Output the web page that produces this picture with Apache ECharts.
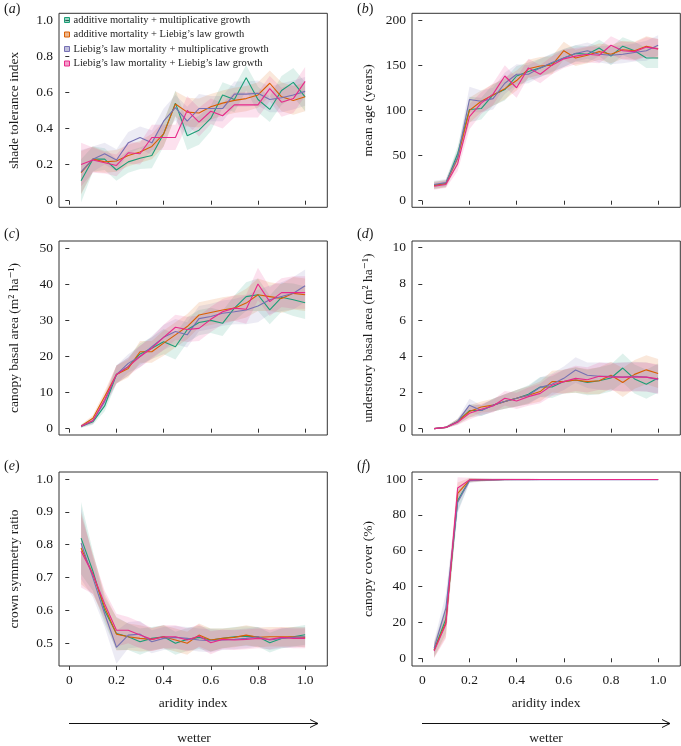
<!DOCTYPE html>
<html>
<head>
<meta charset="utf-8">
<script src="https://cdn.jsdelivr.net/npm/echarts@6/dist/echarts.min.js"></script>
<style>
html,body{margin:0;padding:0;background:#fff;}
#chart{width:681px;height:746px;}
</style>
</head>
<body>
<div id="chart"></div>
<script>
// ---------------- DATA ----------------
const aridity = [0.05,0.10,0.15,0.20,0.25,0.30,0.35,0.40,0.45,0.50,0.55,0.60,0.65,0.70,0.75,0.80,0.85,0.90,0.95,1.00];
const modelNames = [
  'additive mortality + multiplicative growth',
  'additive mortality + Liebig\u2019s law growth',
  'Liebig\u2019s law mortality + multiplicative growth',
  'Liebig\u2019s law mortality + Liebig\u2019s law growth'
];
const xTicks = [0,0.2,0.4,0.6,0.8,1.0];

// (a) shade tolerance index
const shadeGreen  = [0.11,0.23,0.23,0.17,0.215,0.235,0.25,0.37,0.54,0.36,0.39,0.455,0.585,0.56,0.68,0.56,0.505,0.61,0.655,0.575];
const shadeOrange = [0.155,0.23,0.215,0.22,0.25,0.27,0.30,0.37,0.535,0.49,0.485,0.52,0.54,0.555,0.565,0.585,0.65,0.575,0.555,0.575];
const shadePurple = [0.16,0.23,0.26,0.225,0.32,0.35,0.32,0.44,0.515,0.44,0.51,0.51,0.51,0.59,0.59,0.595,0.56,0.57,0.585,0.605];
const shadePink   = [0.20,0.225,0.21,0.195,0.265,0.26,0.35,0.35,0.35,0.50,0.435,0.495,0.47,0.53,0.53,0.53,0.62,0.545,0.565,0.66];
const shadeSpread = [0.12,0.07,0.06,0.06,0.06,0.06,0.07,0.07,0.07,0.08,0.08,0.07,0.07,0.07,0.07,0.07,0.07,0.08,0.08,0.08];
const shadeTicks  = [0,0.2,0.4,0.6,0.8,1.0];

// (b) mean age
const ageGreen  = [17,19,52,101,102,117,123,138,143,147,152,158,163,162,169,160,171,166,158,158];
const ageOrange = [17,19,47,100,110,117,124,133,146,149,150,166,158,161,165,162,167,166,171,168];
const agePurple = [18,20,48,112,110,113,130,140,140,147,153,158,163,166,162,161,162,164,166,172];
const agePink   = [16,18,41,93,108,118,138,125,147,140,150,157,160,162,161,172,166,165,170,168];
const ageSpread = [4,4,8,14,12,12,12,11,10,10,10,10,9,9,9,10,10,10,11,11];
const ageTicks  = [0,50,100,150,200];

// (c) canopy basal area
const canopyBAGreen  = [0.6,1.9,6.3,15,17.2,20.7,22.3,24.1,22.7,27.4,29.4,30,29.2,33.4,36.6,37.1,32.9,36.4,35.7,34.9];
const canopyBAOrange = [0.7,2.9,8.9,15,16.7,21.3,21.3,23.7,26,28.3,31.5,32.2,32.9,33.4,34.8,37.1,36.6,36.1,37.5,37.1];
const canopyBAPurple = [0.7,2.2,7.5,15,18.1,20,22.7,25.3,26.9,26,30.5,31.1,32,32.4,32.9,34,35.7,36.6,37.5,39.6];
const canopyBAPink   = [0.7,2.2,8,15,17.2,20,22.3,25.3,28.1,27.5,27.8,30.3,32.4,33.4,33.1,40.1,35.2,37.7,37.7,37.7];
const canopyBASpread = [0.4,0.8,1.5,2.5,2.5,3,3,3.5,3.5,3.5,3.5,3.5,3.5,3.5,4,4.5,4,4,4.5,4.5];
const canopyBATicks  = [0,10,20,30,40,50];

// (d) understory basal area
const underBAGreen  = [0,0.07,0.4,1.0,1.0,1.3,1.5,1.68,1.9,2.3,2.3,2.6,2.69,2.55,2.65,2.8,3.35,2.75,2.45,2.8];
const underBAOrange = [0,0.07,0.4,0.95,1.2,1.3,1.5,1.68,1.85,2.05,2.6,2.6,2.69,2.6,2.65,2.95,2.55,3.0,3.25,3.05];
const underBAPurple = [0,0.07,0.4,1.3,1.0,1.3,1.5,1.68,1.85,2.28,2.45,2.78,3.24,2.95,2.9,2.9,2.85,2.9,2.85,2.7];
const underBAPink   = [0,0.07,0.35,0.85,1.07,1.25,1.68,1.53,1.77,1.95,2.4,2.6,2.78,2.7,2.9,2.85,2.85,2.85,2.85,2.75];
const underBASpread = [0.02,0.05,0.15,0.35,0.3,0.35,0.4,0.45,0.5,0.55,0.6,0.65,0.7,0.7,0.75,0.75,0.8,0.8,0.8,0.8];
const underBATicks  = [0,2,4,6,8,10];

// (e) crown symmetry ratio
const crownGreen  = [0.82,0.72,0.60,0.53,0.52,0.505,0.515,0.52,0.50,0.512,0.518,0.51,0.515,0.52,0.522,0.52,0.502,0.515,0.52,0.526];
const crownOrange = [0.79,0.71,0.61,0.528,0.52,0.515,0.512,0.52,0.51,0.50,0.525,0.51,0.515,0.518,0.525,0.518,0.52,0.52,0.52,0.518];
const crownPurple = [0.805,0.70,0.59,0.488,0.525,0.528,0.505,0.515,0.518,0.515,0.51,0.508,0.51,0.512,0.515,0.52,0.51,0.515,0.518,0.52];
const crownPink   = [0.78,0.71,0.62,0.54,0.54,0.525,0.512,0.52,0.52,0.51,0.522,0.502,0.512,0.51,0.512,0.515,0.512,0.518,0.515,0.515];
const crownSpread = [0.11,0.06,0.04,0.05,0.04,0.04,0.035,0.035,0.035,0.035,0.035,0.035,0.03,0.03,0.03,0.03,0.03,0.03,0.03,0.03];
const crownTicks  = [0.5,0.6,0.7,0.8,0.9,1.0];

// (f) canopy cover
const coverGreen  = [4.5,22,88,99.3,99.5,99.6,99.7,99.7,99.7,99.7,99.7,99.7,99.7,99.7,99.7,99.7,99.7,99.7,99.7,99.7];
const coverOrange = [4.5,20,92,99.4,99.5,99.6,99.7,99.7,99.7,99.7,99.7,99.7,99.7,99.7,99.7,99.7,99.7,99.7,99.7,99.7];
const coverPurple = [5.5,28,87,99.0,99.4,99.5,99.6,99.6,99.6,99.6,99.6,99.6,99.6,99.6,99.6,99.6,99.6,99.6,99.6,99.6];
const coverPink   = [4,19,95,99.5,99.6,99.6,99.7,99.7,99.7,99.7,99.7,99.7,99.7,99.7,99.7,99.7,99.7,99.7,99.7,99.7];
const coverSpread = [4,8,6,1.2,0.8,0.6,0.5,0.4,0.4,0.3,0.3,0.3,0.3,0.3,0.3,0.3,0.3,0.3,0.3,0.3];
const coverTicks  = [0,20,40,60,80,100];

// ---------------- STYLE / LAYOUT ----------------
const colors = ['#1b9e77','#d95f02','#7570b3','#e7298a'];
const FONT = "'Liberation Serif', 'DejaVu Serif', serif";
const TXT = '#1a1a1a';
const AX = '#333333';

function rgba(hex, a){
  const n = parseInt(hex.slice(1),16);
  return 'rgba(' + ((n>>16)&255) + ',' + ((n>>8)&255) + ',' + (n&255) + ',' + a + ')';
}
function fmt1(v){ return v === 0 ? '0' : v.toFixed(1); }
function fmt0(v){ return String(Math.round(v)); }

const panels = [
  {lines:[shadeGreen,shadeOrange,shadePurple,shadePink], spread:shadeSpread, ticks:shadeTicks, fmt:fmt1,
   yMin:-0.0365, yMax:1.037, name:'shade tolerance index', left:59, top:13.3, label:'a'},
  {lines:[ageGreen,ageOrange,agePurple,agePink], spread:ageSpread, ticks:ageTicks, fmt:fmt0,
   yMin:-7.3, yMax:207.4, name:'mean age (years)', left:412, top:13.3, label:'b'},
  {lines:[canopyBAGreen,canopyBAOrange,canopyBAPurple,canopyBAPink], spread:canopyBASpread, ticks:canopyBATicks, fmt:fmt0,
   yMin:-1.75, yMax:52.0, name:'canopy basal area (m\u00B2 ha\u207B\u00B9)', left:59, top:241, label:'c'},
  {lines:[underBAGreen,underBAOrange,underBAPurple,underBAPink], spread:underBASpread, ticks:underBATicks, fmt:fmt0,
   yMin:-0.35, yMax:10.37, name:'understory basal area (m\u00B2 ha\u207B\u00B9)', left:412, top:241, label:'d'},
  {lines:[crownGreen,crownOrange,crownPurple,crownPink], spread:crownSpread, ticks:crownTicks, fmt:fmt1,
   yMin:0.431, yMax:1.0213, name:'crown symmetry ratio', left:59, top:472, label:'e', bottom:true},
  {lines:[coverGreen,coverOrange,coverPurple,coverPink], spread:coverSpread, ticks:coverTicks, fmt:fmt0,
   yMin:-4.3, yMax:103.9, name:'canopy cover (%)', left:412, top:472, label:'f', bottom:true}
];

const grids = [], xAxes = [], yAxes = [], series = [], graphics = [];

panels.forEach((p, gi) => {
  grids.push({left:p.left, top:p.top, width:268.3, height:194, show:true, borderColor:AX, borderWidth:1, backgroundColor:'transparent'});
  xAxes.push({
    type:'value', gridIndex:gi, min:-0.0436, max:1.094,
    axisLine:{show:false},
    axisTick:{show:true, inside:false, length:4, lineStyle:{color:AX, width:1}, customValues:xTicks},
    axisLabel:{show:!!p.bottom, customValues:xTicks, formatter:fmt1, fontFamily:FONT, fontSize:13.5, color:TXT, margin:7},
    splitLine:{show:false},
    name: p.bottom ? 'aridity index' : '', nameLocation:'middle', nameGap:30,
    nameTextStyle:{fontFamily:FONT, fontSize:13.5, color:TXT}
  });
  yAxes.push({
    type:'value', gridIndex:gi, min:p.yMin, max:p.yMax,
    axisLine:{show:false},
    axisTick:{show:true, inside:false, length:4, lineStyle:{color:AX, width:1}, customValues:p.ticks},
    axisLabel:{customValues:p.ticks, formatter:p.fmt, fontFamily:FONT, fontSize:13.5, color:TXT, margin:6},
    splitLine:{show:false},
    name:p.name, nameLocation:'middle', nameRotate:90, nameGap: (gi % 2 === 0) ? 38 : 37,
    nameTextStyle:{fontFamily:FONT, fontSize:13.5, color:TXT}
  });
  // bands
  p.lines.forEach((vals, si) => {
    series.push({
      type:'custom', name: 'band' + gi + '_' + si, xAxisIndex:gi, yAxisIndex:gi, silent:true, clip:true, z:1,
      data:[[aridity[0], vals[0]]],
      renderItem: function(params, api){
        const pts = [];
        for (let k = 0; k < aridity.length; k++) pts.push(api.coord([aridity[k], vals[k] + p.spread[k]]));
        for (let k = aridity.length - 1; k >= 0; k--) pts.push(api.coord([aridity[k], vals[k] - p.spread[k]]));
        return {type:'polygon', shape:{points:pts}, style:{fill:rgba(colors[si], 0.14), stroke:null}};
      }
    });
  });
  // lines
  p.lines.forEach((vals, si) => {
    series.push({
      type:'line', name:modelNames[si], xAxisIndex:gi, yAxisIndex:gi, z:3,
      data: aridity.map((x, k) => [x, vals[k]]),
      symbol:'none', lineStyle:{color:colors[si], width:1.1}, itemStyle:{color:colors[si]},
      clip:true, silent:true
    });
  });
  // panel label
  const lx = (gi % 2 === 0) ? 4 : 357;
  const ly = [2, 2, 227, 227, 459, 459][gi];
  graphics.push({
    type:'text', left:lx, top:ly, silent:true,
    style:{text:'{p|(}{i|' + p.label + '}{p|)}', rich:{
      p:{fontFamily:FONT, fontSize:14, fill:TXT},
      i:{fontFamily:FONT, fontSize:14, fontStyle:'italic', fill:TXT}
    }}
  });
});

// wetter arrows
[[69, 318, 194], [422, 670, 546]].forEach(a => {
  graphics.push({type:'line', silent:true, shape:{x1:a[0], y1:723.5, x2:a[1], y2:723.5}, style:{stroke:'#111', lineWidth:1}});
  graphics.push({type:'polyline', silent:true, shape:{points:[[a[1]-8, 719.5],[a[1], 723.5],[a[1]-8, 727.5]]}, style:{stroke:'#111', lineWidth:1, fill:null}});
  graphics.push({type:'text', silent:true, x:a[2], y:738, style:{text:'wetter', fontFamily:FONT, fontSize:13.5, fill:TXT, align:'center', verticalAlign:'middle'}});
});

const chart = echarts.init(document.getElementById('chart'), null, {renderer:'canvas'});
chart.setOption({
  animation:false,
  backgroundColor:'#ffffff',
  grid:grids, xAxis:xAxes, yAxis:yAxes, series:series, graphic:graphics,
  legend:{
    show:true, orient:'vertical', left:64, top:14, padding:0, itemGap:2.5,
    icon:'rect', itemWidth:5, itemHeight:5, selectedMode:false,
    textStyle:{fontFamily:FONT, fontSize:10.5, color:TXT, lineHeight:12, padding:[0,0,0,-1]},
    data: modelNames.map((n, i) => ({name:n, itemStyle:{color:rgba(colors[i],0.45), borderColor:colors[i], borderWidth:1}}))
  }
});
</script>
</body>
</html>
